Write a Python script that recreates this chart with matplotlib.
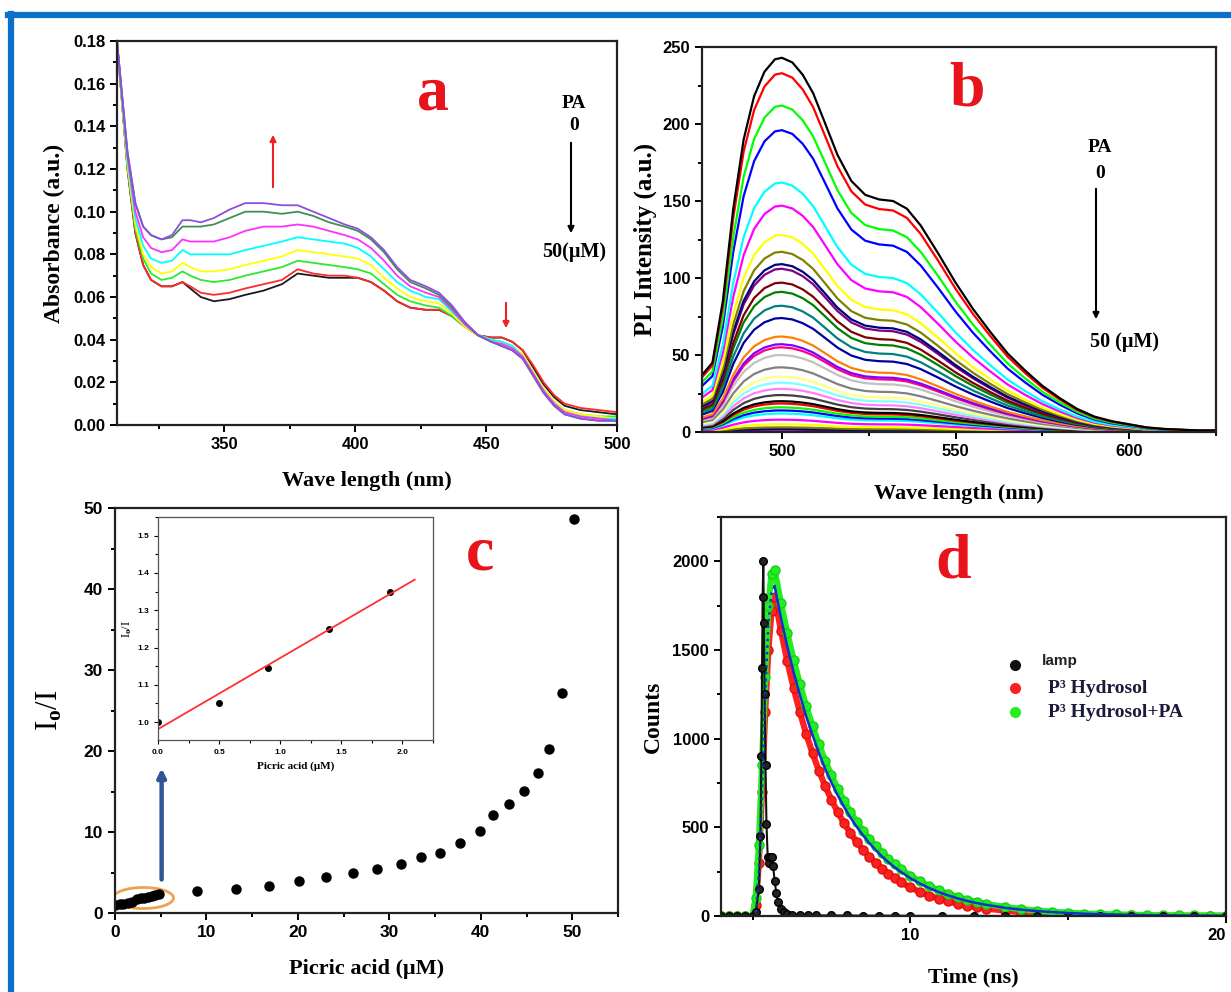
import numpy as np
import matplotlib.pyplot as plt
from matplotlib.lines import Line2D
from matplotlib.patches import Ellipse, FancyArrowPatch
from matplotlib.ticker import MultipleLocator, FixedLocator

SERIF = ['Liberation Serif', 'DejaVu Serif']
SANS = ['Liberation Sans', 'DejaVu Sans']
plt.rcParams['font.family'] = SANS
plt.rcParams['font.weight'] = 'bold'
plt.rcParams['axes.linewidth'] = 1.6
plt.rcParams['mathtext.fontset'] = 'custom'
plt.rcParams['mathtext.rm'] = 'Liberation Serif:bold'
plt.rcParams['mathtext.it'] = 'Liberation Serif:bold'
plt.rcParams['mathtext.bf'] = 'Liberation Serif:bold'

# ---------------- panel a : absorbance ----------------
abs_wl = [309, 311, 313, 316, 319, 322, 326, 330, 334, 337, 341, 346, 352, 358, 365, 372, 378, 384,
          390, 396, 401, 406, 411, 416, 421, 427, 432, 437, 442, 447, 452, 456, 460, 464, 468, 472,
          476, 480, 486, 493, 500]
abs_black = [0.180, 0.150, 0.120, 0.090, 0.075, 0.068, 0.065, 0.065, 0.067, 0.064, 0.060, 0.058, 0.059, 0.061,
             0.063, 0.066, 0.071, 0.070, 0.069, 0.069, 0.069, 0.067, 0.063, 0.058, 0.055, 0.054, 0.054, 0.051,
             0.046, 0.042, 0.041, 0.041, 0.039, 0.035, 0.027, 0.019, 0.013, 0.009, 0.007, 0.006, 0.005]
abs_red = [0.180, 0.150, 0.120, 0.090, 0.075, 0.068, 0.065, 0.065, 0.067, 0.065, 0.062, 0.061, 0.062, 0.064,
           0.066, 0.068, 0.073, 0.071, 0.070, 0.070, 0.069, 0.067, 0.063, 0.058, 0.055, 0.054, 0.054, 0.051,
           0.046, 0.042, 0.041, 0.041, 0.039, 0.035, 0.028, 0.020, 0.014, 0.010, 0.008, 0.007, 0.006]
abs_green = [0.180, 0.150, 0.121, 0.092, 0.078, 0.071, 0.068, 0.069, 0.072, 0.070, 0.068, 0.067, 0.068, 0.070,
             0.072, 0.074, 0.077, 0.076, 0.075, 0.074, 0.073, 0.071, 0.066, 0.061, 0.058, 0.056, 0.055, 0.051,
             0.046, 0.042, 0.040, 0.039, 0.037, 0.033, 0.025, 0.017, 0.011, 0.007, 0.005, 0.004, 0.004]
abs_yellow = [0.180, 0.151, 0.122, 0.094, 0.080, 0.074, 0.071, 0.072, 0.076, 0.074, 0.072, 0.072, 0.073, 0.075,
              0.077, 0.079, 0.082, 0.081, 0.080, 0.079, 0.078, 0.075, 0.069, 0.064, 0.060, 0.058, 0.057, 0.052,
              0.046, 0.042, 0.040, 0.039, 0.037, 0.033, 0.025, 0.017, 0.011, 0.007, 0.005, 0.004, 0.003]
abs_cyan = [0.180, 0.152, 0.124, 0.097, 0.084, 0.078, 0.076, 0.077, 0.082, 0.080, 0.080, 0.080, 0.080, 0.082,
            0.084, 0.086, 0.088, 0.087, 0.086, 0.085, 0.083, 0.079, 0.073, 0.067, 0.063, 0.060, 0.059, 0.053,
            0.047, 0.042, 0.040, 0.039, 0.037, 0.032, 0.024, 0.016, 0.010, 0.006, 0.004, 0.003, 0.003]
abs_magenta = [0.180, 0.153, 0.126, 0.100, 0.088, 0.083, 0.081, 0.082, 0.087, 0.086, 0.086, 0.086, 0.088, 0.091,
               0.093, 0.093, 0.094, 0.093, 0.091, 0.089, 0.087, 0.083, 0.077, 0.070, 0.065, 0.062, 0.060, 0.054,
               0.047, 0.042, 0.039, 0.038, 0.036, 0.032, 0.024, 0.016, 0.010, 0.006, 0.004, 0.003, 0.002]
abs_dkgreen = [0.180, 0.154, 0.128, 0.104, 0.093, 0.089, 0.087, 0.088, 0.093, 0.093, 0.093, 0.094, 0.097, 0.100,
               0.100, 0.099, 0.100, 0.098, 0.095, 0.093, 0.091, 0.087, 0.081, 0.073, 0.067, 0.064, 0.061, 0.055,
               0.048, 0.042, 0.039, 0.037, 0.035, 0.031, 0.023, 0.015, 0.009, 0.005, 0.003, 0.002, 0.002]
abs_purple = [0.180, 0.154, 0.128, 0.104, 0.093, 0.089, 0.087, 0.089, 0.096, 0.096, 0.095, 0.097, 0.101, 0.104,
              0.104, 0.103, 0.103, 0.100, 0.097, 0.094, 0.092, 0.088, 0.082, 0.074, 0.068, 0.065, 0.062, 0.056,
              0.048, 0.042, 0.039, 0.037, 0.035, 0.031, 0.023, 0.015, 0.009, 0.005, 0.003, 0.002, 0.002]
abs_curves = [abs_black, abs_red, abs_green, abs_yellow, abs_cyan, abs_magenta, abs_dkgreen, abs_purple]
abs_colors = ['#1a1a1a', '#ff2a2a', '#2ee82e', '#ffff00', '#00ffff', '#ff30ff', '#3f8f50', '#8c4fe0']

# ---------------- panel b : PL spectra ----------------
pl_wl = [477, 480, 483, 486, 489, 492, 495, 498, 500, 503, 506, 509, 512, 516, 520, 524, 528, 532, 536,
         540, 545, 550, 555, 560, 565, 570, 575, 580, 585, 590, 595, 600, 605, 610, 615, 620, 625]
pl_top = [37, 45, 85, 145, 190, 218, 234, 242, 243, 240, 232, 220, 203, 180, 163, 154, 151, 150, 145,
          134, 116, 97, 80, 65, 51, 40, 30, 22, 15, 10, 7, 5, 3, 2, 1.5, 1, 1]
pl_peaks = [243, 233, 212, 196, 162, 147, 128, 117, 109, 106, 97, 91, 82, 74, 62, 57, 55, 50, 42, 36,
            32, 28, 24, 20, 18.5, 16, 14, 12, 8, 5, 3, 2, 1.5]
pl_colors = ['#000000', '#ff0000', '#00ff00', '#0000ff', '#00ffff', '#ff00ff', '#ffff00', '#808000',
             '#000080', '#800080', '#800000', '#008000', '#008080', '#0000a0', '#ff8000', '#8000ff',
             '#ff0080', '#c0c0c0', '#808080', '#ffff80', '#80ffff', '#ff80ff', '#404040', '#000000',
             '#ff0000', '#00ff00', '#0000ff', '#00ffff', '#ff00ff', '#ffff00', '#808000', '#000080', '#800080']

# ---------------- panel c : Stern-Volmer ----------------
pa_conc = [0, 0.5, 0.9, 1.4, 1.9, 2.4, 2.8, 3.2, 3.6, 4.0, 4.4, 4.8, 9.0, 13.2, 16.8, 20.1, 23.1, 26.0,
           28.7, 31.3, 33.5, 35.5, 37.7, 39.9, 41.3, 43.1, 44.7, 46.2, 47.5, 48.9, 50.2]
io_i = [1.0, 1.05, 1.15, 1.25, 1.35, 1.7, 1.8, 1.9, 2.0, 2.1, 2.2, 2.3, 2.7, 3.0, 3.3, 3.95, 4.4, 4.9,
        5.4, 6.0, 6.9, 7.4, 8.6, 10.1, 12.1, 13.5, 15.1, 17.3, 20.2, 27.2, 48.6]
ins_conc = [0, 0.5, 0.9, 1.4, 1.9]
ins_io = [1.0, 1.05, 1.145, 1.25, 1.35]
fit_conc = [0, 2.1]
fit_io = [0.981, 1.382]

# ---------------- panel d : decay ----------------
t_ns = [4.0, 4.25, 4.5, 4.75, 5.0, 5.1, 5.2, 5.3, 5.4, 5.5, 5.6, 5.7, 5.9, 6.1, 6.3, 6.5, 6.7, 6.9, 7.1,
        7.3, 7.5, 7.7, 7.9, 8.1, 8.3, 8.5, 8.7, 8.9, 9.1, 9.3, 9.5, 9.7, 10.0, 10.3, 10.6, 10.9, 11.2,
        11.5, 11.8, 12.1, 12.4, 13.0, 13.5, 14.0, 14.5, 15.0, 15.5, 16.0, 16.5, 17.0, 17.5, 18.0, 18.5,
        19.0, 19.5, 20.0]
hydrosol = [0, 0, 0, 0, 0, 60, 300, 700, 1150, 1500, 1720,
            1800, 1609, 1438, 1286, 1149, 1026, 918, 820, 733, 655, 585, 523, 467, 418, 373, 334, 298,
            266, 238, 213, 190, 161, 136, 115, 97, 82, 69, 58, 49, 42,
            30, 22, 17, 13, 10, 7, 5, 4, 3, 2, 2, 1, 1, 1, 1]
hydrosol_pa = [0, 0, 0, 0, 0, 100, 400, 850, 1350, 1750, 1930,
               1950, 1764, 1597, 1445, 1307, 1183, 1070, 968, 876, 793, 717, 649, 587, 531, 481, 435,
               394, 356, 322, 292, 264, 227, 196, 168, 145, 125, 107, 92, 80, 68,
               51, 39, 31, 24, 19, 14, 11, 9, 7, 5, 4, 3, 3, 2, 2]
fit_counts = [0, 0, 0, 0, 0, 0, 250, 700, 1250, 1650, 1820,
              1860, 1680, 1520, 1375, 1245, 1125, 1020, 920, 830, 752, 680, 615, 555, 503, 455, 411,
              372, 336, 304, 275, 249, 213, 183, 157, 135, 116, 99, 85, 73, 63,
              46, 36, 28, 22, 17, 13, 10, 8, 6, 5, 4, 3, 2, 2, 1]
lamp_t = [4.0, 4.25, 4.5, 4.75, 5.0, 5.1, 5.2, 5.25, 5.28, 5.3, 5.32, 5.34, 5.36, 5.38, 5.41, 5.44,
          5.48, 5.52, 5.56, 5.6, 5.65, 5.7, 5.75, 5.8, 5.9, 6.0, 6.1, 6.25, 6.5, 6.75, 7.0, 7.5, 8.0,
          8.5, 9.0, 9.5, 10.0, 11.0, 12.0, 13.0, 14.0, 15.0, 16.0, 17.0, 18.0, 19.0, 20.0]
lamp_counts = [0, 0, 0, 0, 0, 20, 150, 450, 900, 1400, 1800, 2000, 1650, 1250, 850, 520, 330, 300,
               335, 330, 280, 200, 130, 80, 40, 20, 12, 8, 6, 5, 4, 3, 3, 2, 2, 2, 1, 1, 1, 0, 0, 0,
               0, 0, 0, 0, 0]

W, H = 1231, 992
fig = plt.figure(figsize=(W / 100, H / 100), dpi=100)


def px_axes(l, t, r, b):
    return fig.add_axes([l / W, 1 - b / H, (r - l) / W, (b - t) / H])


def fpt(x, y):
    return (x / W, 1 - y / H)


def style(ax, fs=12):
    ax.tick_params(which='both', direction='out', top=False, right=False, labelsize=fs, width=1.4)
    ax.tick_params(which='major', length=5)
    ax.tick_params(which='minor', length=3)
    for s in ax.spines.values():
        s.set_color('#222222')


def farrow(x0, y0, x1, y1, color='black', lw=1.5, ms=10):
    fig.add_artist(FancyArrowPatch(fpt(x0, y0), fpt(x1, y1), transform=fig.transFigure,
                                   arrowstyle='-|>', mutation_scale=ms, color=color, lw=lw))


def ftext(x, y, s, **kw):
    fig.text(x / W, 1 - y / H, s, ha='center', va='center', family=SERIF, fontweight='bold', **kw)


# blue frame round the picture
fig.add_artist(Line2D([11 / W, 11 / W], [0, 1 - 14 / H], transform=fig.transFigure, color='#0a70c8', lw=4.5))
fig.add_artist(Line2D([8 / W, 1], [1 - 15 / H, 1 - 15 / H], transform=fig.transFigure, color='#0a70c8', lw=4.5))

# ---- a ----
ax = px_axes(117, 41, 617, 425)
for y, c in zip(abs_curves, abs_colors):
    ax.plot(abs_wl, y, color=c, lw=1.3)
ax.set_xlim(309, 500)
ax.set_ylim(0, 0.18)
ax.xaxis.set_major_locator(FixedLocator([350, 400, 450, 500]))
ax.xaxis.set_minor_locator(MultipleLocator(25))
ax.yaxis.set_major_locator(MultipleLocator(0.02))
ax.yaxis.set_minor_locator(MultipleLocator(0.01))
ax.yaxis.set_major_formatter(plt.FuncFormatter(lambda v, p: f'{v:.2f}'))
style(ax)
ax.set_xlabel('Wave length (nm)', family=SERIF, fontsize=16, fontweight='bold', labelpad=14)
ax.set_ylabel('Absorbance (a.u.)', family=SERIF, fontsize=17, fontweight='bold', labelpad=6)
ax.text(0.632, 0.86, 'a', transform=ax.transAxes, ha='center', va='center', color='#e8141c',
        family=SERIF, fontsize=46, fontweight='bold')
ftext(574, 104, 'PA', fontsize=14)
ftext(574, 126, '0', fontsize=14)
farrow(571, 140, 571, 236, lw=1.5, ms=9)
ftext(574, 252, '50(μM)', fontsize=14.5)
farrow(273, 190, 273, 132, color='#ee2222', lw=1.5, ms=9)
farrow(506, 300, 506, 331, color='#ee2222', lw=1.5, ms=9)

# ---- b ----
ax = px_axes(702, 47, 1216, 432)
for pk, c in zip(pl_peaks[::-1], pl_colors[::-1]):
    ax.plot(pl_wl, np.array(pl_top) * pk / max(pl_top), color=c, lw=1.6)
ax.set_xlim(477, 625)
ax.set_ylim(0, 250)
ax.xaxis.set_major_locator(FixedLocator([500, 550, 600]))
ax.xaxis.set_minor_locator(FixedLocator([525, 575, 625]))
ax.yaxis.set_major_locator(MultipleLocator(50))
ax.yaxis.set_minor_locator(MultipleLocator(25))
style(ax)
ax.set_xlabel('Wave length (nm)', family=SERIF, fontsize=16, fontweight='bold', labelpad=18)
ax.set_ylabel('PL Intensity (a.u.)', family=SERIF, fontsize=18, fontweight='bold', labelpad=4)
ax.text(0.516, 0.888, 'b', transform=ax.transAxes, ha='center', va='center', color='#e8141c',
        family=SERIF, fontsize=46, fontweight='bold')
ftext(1100, 147, 'PA', fontsize=14)
ftext(1100, 173, '0', fontsize=14)
farrow(1096, 186, 1096, 322, lw=1.5, ms=9)
ftext(1124, 342, '50 (μM)', fontsize=14.5)

# ---- c ----
ax = px_axes(115, 508, 618, 913)
ax.plot(pa_conc, io_i, 'o', color='black', ms=6.5)
ax.add_patch(Ellipse((3.1, 1.85), 6.6, 2.6, fill=False, edgecolor='#f0a050', lw=2))
ax.annotate('', xy=(5.1, 18.2), xytext=(5.1, 3.8),
            arrowprops=dict(arrowstyle='-|>', color='#2f5597', lw=3.2, mutation_scale=12))
ax.set_xlim(0, 55)
ax.set_ylim(0, 50)
ax.xaxis.set_major_locator(MultipleLocator(10))
ax.xaxis.set_minor_locator(MultipleLocator(5))
ax.yaxis.set_major_locator(MultipleLocator(10))
ax.yaxis.set_minor_locator(MultipleLocator(5))
style(ax, fs=12.5)
ax.set_xlabel('Picric acid (μM)', family=SERIF, fontsize=16, fontweight='bold', labelpad=14)
ax.set_ylabel('I$_\\mathrm{o}$/I', family=SERIF, fontsize=22, labelpad=14)
ax.text(0.726, 0.884, 'c', transform=ax.transAxes, ha='center', va='center', color='#e8141c',
        family=SERIF, fontsize=46, fontweight='bold')

ins = px_axes(158, 517, 433, 740)
ins.plot(ins_conc, ins_io, 'o', color='black', ms=4)
ins.plot(fit_conc, fit_io, color='#ff3030', lw=1.3)
ins.set_xlim(0, 2.25)
ins.set_ylim(0.952, 1.55)
ins.xaxis.set_major_locator(MultipleLocator(0.5))
ins.xaxis.set_minor_locator(MultipleLocator(0.25))
ins.yaxis.set_major_locator(FixedLocator([1.0, 1.1, 1.2, 1.3, 1.4, 1.5]))
ins.yaxis.set_minor_locator(MultipleLocator(0.05))
ins.xaxis.set_major_formatter(plt.FuncFormatter(lambda v, p: f'{v:.1f}'))
ins.yaxis.set_major_formatter(plt.FuncFormatter(lambda v, p: f'{v:.1f}'))
ins.tick_params(which='both', direction='out', top=False, right=False, labelsize=6, width=0.8)
ins.tick_params(which='major', length=3)
ins.tick_params(which='minor', length=2)
for s in ins.spines.values():
    s.set_linewidth(0.9)
    s.set_color('#555555')
ins.set_xlabel('Picric acid (μM)', family=SERIF, fontsize=8, fontweight='bold', labelpad=4)
ins.set_ylabel('I$_\\mathrm{o}$/I', family=SERIF, fontsize=9, labelpad=2)

# ---- d ----
ax = px_axes(721, 517, 1226, 916)
ax.plot(t_ns, hydrosol, 'o-', color='#ff2020', ms=6.5, lw=4.5, mec='#e01010')
ax.plot(t_ns, hydrosol_pa, 'o-', color='#22ee22', ms=6.5, lw=4.5, mec='#18d018')
ax.plot(lamp_t, lamp_counts, 'o-', color='#111111', ms=5.5, lw=1.5, mfc='#222222', mec='#000000')
ax.plot(t_ns[4:12], fit_counts[4:12], ':', color='#1030d0', lw=1.8)
ax.plot(t_ns[11:], fit_counts[11:], '-', color='#1030d0', lw=1.8)
ax.plot(t_ns[:5], fit_counts[:5], '-', color='#1030d0', lw=1.8)
ax.set_xlim(4, 20)
ax.set_ylim(0, 2250)
ax.xaxis.set_major_locator(FixedLocator([10, 20]))
ax.xaxis.set_minor_locator(FixedLocator([5, 15]))
ax.yaxis.set_major_locator(MultipleLocator(500))
ax.yaxis.set_minor_locator(MultipleLocator(250))
style(ax, fs=12)
fig.canvas.draw()
ax.get_xticklabels()[-1].set_horizontalalignment('right')
ax.set_xlabel('Time (ns)', family=SERIF, fontsize=16, fontweight='bold', labelpad=18)
ax.set_ylabel('Counts', family=SERIF, fontsize=17, fontweight='bold', labelpad=6)
ax.text(0.459, 0.887, 'd', transform=ax.transAxes, ha='center', va='center', color='#e8141c',
        family=SERIF, fontsize=46, fontweight='bold')
leg_y = [0.629, 0.571, 0.511]
leg_c = ['#111111', '#ff2020', '#22ee22']
leg_lab = ['lamp', 'P³ Hydrosol', 'P³ Hydrosol+PA']
for yy, cc, lab, i in zip(leg_y, leg_c, leg_lab, range(3)):
    ax.plot([0.582], [yy], 'o', color=cc, ms=7, transform=ax.transAxes)
    if i == 0:
        ax.text(0.636, yy + 0.01, lab, transform=ax.transAxes, va='center', fontsize=11,
                color='#222222', family=SANS, fontweight='bold')
    else:
        ax.text(0.648, yy, lab, transform=ax.transAxes, va='center', fontsize=14,
                color='#1a1a3a', family=SERIF, fontweight='bold')

fig.savefig('out.png', dpi=100)
